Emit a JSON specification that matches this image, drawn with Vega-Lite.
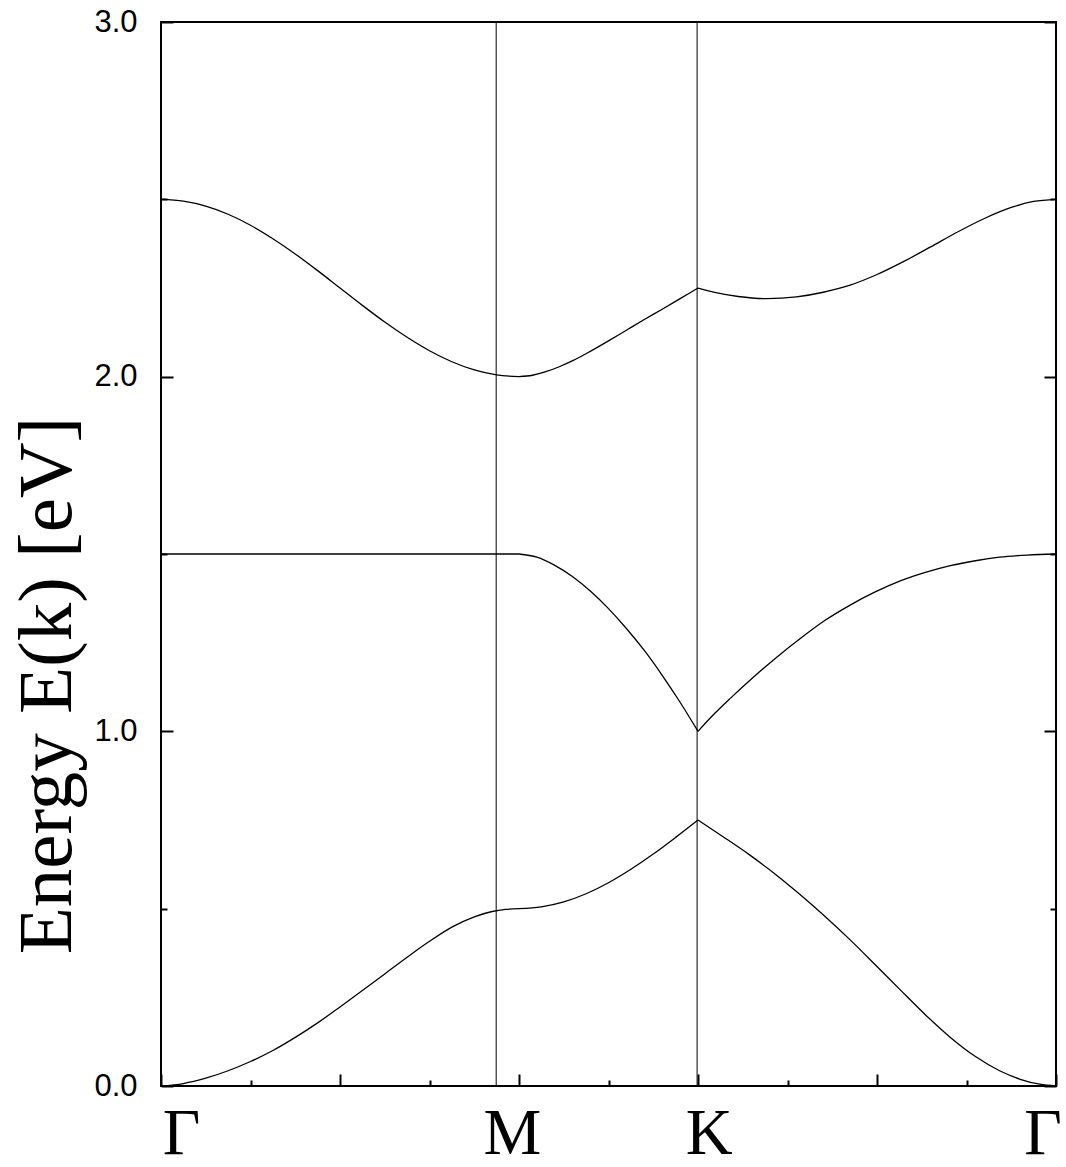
{
  "$schema": "https://vega.github.io/schema/vega-lite/v6.json",
  "width": 895,
  "height": 1064,
  "autosize": {"type": "none"},
  "padding": {"left": 161, "top": 22, "right": 10, "bottom": 81},
  "background": "white",
  "config": {
    "view": {"stroke": "black", "strokeWidth": 2},
    "axis": {"grid": false, "domain": false, "tickColor": "black", "tickWidth": 2, "labelColor": "black", "titleColor": "black"}
  },
  "datasets": {
    "bands": [
      {"seg": "1a", "k": 0, "E": 0},
      {"seg": "1a", "k": 0.025, "E": 0.007},
      {"seg": "1a", "k": 0.05, "E": 0.022},
      {"seg": "1a", "k": 0.075, "E": 0.043},
      {"seg": "1a", "k": 0.1, "E": 0.069},
      {"seg": "1a", "k": 0.125, "E": 0.1},
      {"seg": "1a", "k": 0.15, "E": 0.137},
      {"seg": "1a", "k": 0.175, "E": 0.178},
      {"seg": "1a", "k": 0.2, "E": 0.223},
      {"seg": "1a", "k": 0.225, "E": 0.269},
      {"seg": "1a", "k": 0.25, "E": 0.316},
      {"seg": "1a", "k": 0.275, "E": 0.363},
      {"seg": "1a", "k": 0.3, "E": 0.408},
      {"seg": "1a", "k": 0.325, "E": 0.448},
      {"seg": "1a", "k": 0.35, "E": 0.477},
      {"seg": "1a", "k": 0.37, "E": 0.492},
      {"seg": "1a", "k": 0.385, "E": 0.498},
      {"seg": "1a", "k": 0.4, "E": 0.5},
      {"seg": "1b", "k": 0.4, "E": 0.5},
      {"seg": "1b", "k": 0.425, "E": 0.505},
      {"seg": "1b", "k": 0.45, "E": 0.519},
      {"seg": "1b", "k": 0.475, "E": 0.542},
      {"seg": "1b", "k": 0.5, "E": 0.573},
      {"seg": "1b", "k": 0.525, "E": 0.611},
      {"seg": "1b", "k": 0.55, "E": 0.654},
      {"seg": "1b", "k": 0.575, "E": 0.701},
      {"seg": "1b", "k": 0.6, "E": 0.75},
      {"seg": "1c", "k": 0.6, "E": 0.75},
      {"seg": "1c", "k": 0.628, "E": 0.703},
      {"seg": "1c", "k": 0.658, "E": 0.651},
      {"seg": "1c", "k": 0.686, "E": 0.598},
      {"seg": "1c", "k": 0.714, "E": 0.54},
      {"seg": "1c", "k": 0.742, "E": 0.478},
      {"seg": "1c", "k": 0.77, "E": 0.412},
      {"seg": "1c", "k": 0.798, "E": 0.342},
      {"seg": "1c", "k": 0.826, "E": 0.271},
      {"seg": "1c", "k": 0.854, "E": 0.201},
      {"seg": "1c", "k": 0.882, "E": 0.137},
      {"seg": "1c", "k": 0.91, "E": 0.083},
      {"seg": "1c", "k": 0.937, "E": 0.043},
      {"seg": "1c", "k": 0.96, "E": 0.019},
      {"seg": "1c", "k": 0.982, "E": 0.005},
      {"seg": "1c", "k": 1.0, "E": 0},
      {"seg": "2a", "k": 0, "E": 1.5},
      {"seg": "2a", "k": 0.2, "E": 1.5},
      {"seg": "2a", "k": 0.4, "E": 1.5},
      {"seg": "2b", "k": 0.4, "E": 1.5},
      {"seg": "2b", "k": 0.42, "E": 1.491},
      {"seg": "2b", "k": 0.44, "E": 1.468},
      {"seg": "2b", "k": 0.46, "E": 1.436},
      {"seg": "2b", "k": 0.48, "E": 1.395},
      {"seg": "2b", "k": 0.5, "E": 1.346},
      {"seg": "2b", "k": 0.52, "E": 1.29},
      {"seg": "2b", "k": 0.54, "E": 1.228},
      {"seg": "2b", "k": 0.56, "E": 1.158},
      {"seg": "2b", "k": 0.58, "E": 1.082},
      {"seg": "2b", "k": 0.6, "E": 1.0},
      {"seg": "2c", "k": 0.6, "E": 1.0},
      {"seg": "2c", "k": 0.615, "E": 1.041},
      {"seg": "2c", "k": 0.637, "E": 1.095},
      {"seg": "2c", "k": 0.659, "E": 1.146},
      {"seg": "2c", "k": 0.687, "E": 1.207},
      {"seg": "2c", "k": 0.715, "E": 1.263},
      {"seg": "2c", "k": 0.742, "E": 1.313},
      {"seg": "2c", "k": 0.77, "E": 1.356},
      {"seg": "2c", "k": 0.798, "E": 1.393},
      {"seg": "2c", "k": 0.826, "E": 1.424},
      {"seg": "2c", "k": 0.854, "E": 1.448},
      {"seg": "2c", "k": 0.882, "E": 1.467},
      {"seg": "2c", "k": 0.91, "E": 1.481},
      {"seg": "2c", "k": 0.937, "E": 1.491},
      {"seg": "2c", "k": 0.968, "E": 1.497},
      {"seg": "2c", "k": 1.0, "E": 1.5},
      {"seg": "3a", "k": 0, "E": 2.5},
      {"seg": "3a", "k": 0.025, "E": 2.495},
      {"seg": "3a", "k": 0.05, "E": 2.481},
      {"seg": "3a", "k": 0.075, "E": 2.458},
      {"seg": "3a", "k": 0.1, "E": 2.427},
      {"seg": "3a", "k": 0.125, "E": 2.389},
      {"seg": "3a", "k": 0.15, "E": 2.346},
      {"seg": "3a", "k": 0.175, "E": 2.299},
      {"seg": "3a", "k": 0.2, "E": 2.25},
      {"seg": "3a", "k": 0.225, "E": 2.201},
      {"seg": "3a", "k": 0.25, "E": 2.154},
      {"seg": "3a", "k": 0.275, "E": 2.111},
      {"seg": "3a", "k": 0.3, "E": 2.073},
      {"seg": "3a", "k": 0.325, "E": 2.042},
      {"seg": "3a", "k": 0.35, "E": 2.019},
      {"seg": "3a", "k": 0.375, "E": 2.005},
      {"seg": "3a", "k": 0.4, "E": 2.0},
      {"seg": "3b", "k": 0.4, "E": 2.0},
      {"seg": "3b", "k": 0.415, "E": 2.004},
      {"seg": "3b", "k": 0.43, "E": 2.014},
      {"seg": "3b", "k": 0.445, "E": 2.028},
      {"seg": "3b", "k": 0.46, "E": 2.045},
      {"seg": "3b", "k": 0.48, "E": 2.072},
      {"seg": "3b", "k": 0.5, "E": 2.101},
      {"seg": "3b", "k": 0.52, "E": 2.131},
      {"seg": "3b", "k": 0.54, "E": 2.161},
      {"seg": "3b", "k": 0.56, "E": 2.19},
      {"seg": "3b", "k": 0.58, "E": 2.22},
      {"seg": "3b", "k": 0.6, "E": 2.25},
      {"seg": "3c", "k": 0.6, "E": 2.25},
      {"seg": "3c", "k": 0.62, "E": 2.237},
      {"seg": "3c", "k": 0.645, "E": 2.226},
      {"seg": "3c", "k": 0.677, "E": 2.22},
      {"seg": "3c", "k": 0.71, "E": 2.225},
      {"seg": "3c", "k": 0.74, "E": 2.238},
      {"seg": "3c", "k": 0.77, "E": 2.258},
      {"seg": "3c", "k": 0.8, "E": 2.288},
      {"seg": "3c", "k": 0.83, "E": 2.325},
      {"seg": "3c", "k": 0.86, "E": 2.366},
      {"seg": "3c", "k": 0.89, "E": 2.408},
      {"seg": "3c", "k": 0.92, "E": 2.446},
      {"seg": "3c", "k": 0.95, "E": 2.477},
      {"seg": "3c", "k": 0.975, "E": 2.494},
      {"seg": "3c", "k": 1.0, "E": 2.5}
    ],
    "sym": [
      {"name": "M", "k": 0.3745},
      {"name": "K", "k": 0.599}
    ]
  },
  "resolve": {"axis": {"x": "independent", "y": "independent"}},
  "layer": [
    {
      "data": {"name": "bands"},
      "mark": {"type": "line", "interpolate": "monotone", "color": "black", "strokeWidth": 1.3},
      "encoding": {
        "x": {"field": "k", "type": "quantitative", "scale": {"domain": [0, 1], "nice": false, "zero": false},
              "axis": {"orient": "bottom", "values": [0, 0.2, 0.4, 0.6, 0.8, 1], "tickSize": -12, "labels": false, "title": null}},
        "y": {"field": "E", "type": "quantitative", "scale": {"domain": [0, 3], "nice": false},
              "axis": {"orient": "left", "values": [0, 1, 2, 3], "tickSize": -12, "labels": false, "title": null}},
        "detail": {"field": "seg"}
      }
    },
    {
      "data": {"name": "sym"},
      "mark": {"type": "rule", "color": "black", "strokeWidth": 1},
      "encoding": {
        "x": {"field": "k", "type": "quantitative", "scale": {"domain": [0, 1], "nice": false, "zero": false}, "axis": null}
      }
    },
    {
      "data": {"name": "bands"},
      "mark": {"type": "point", "opacity": 0},
      "encoding": {
        "x": {"field": "k", "type": "quantitative", "scale": {"domain": [0, 1], "nice": false, "zero": false},
              "axis": {"orient": "bottom", "values": [0.1, 0.3, 0.5, 0.7, 0.9], "tickSize": -6, "labels": false, "title": null}},
        "y": {"field": "E", "type": "quantitative", "scale": {"domain": [0, 3], "nice": false},
              "axis": {"orient": "left", "values": [0.5, 1.5, 2.5], "tickSize": -6, "labels": false, "title": null}}
      }
    },
    {
      "data": {"name": "bands"},
      "mark": {"type": "point", "opacity": 0},
      "encoding": {
        "x": {"field": "k", "type": "quantitative", "scale": {"domain": [0, 1], "nice": false, "zero": false},
              "axis": {"orient": "bottom", "values": [0.0223, 0.392, 0.612, 0.985], "ticks": false, "title": null,
                       "labelExpr": "datum.value < 0.1 ? 'Γ' : datum.value < 0.5 ? 'M' : datum.value < 0.8 ? 'K' : 'Γ'",
                       "labelFont": "Liberation Serif", "labelFontSize": 65, "labelBaseline": "alphabetic", "labelPadding": 67,
                       "labelAlign": "center", "labelOverlap": false, "labelFlush": false, "labelBound": false}},
        "y": {"field": "E", "type": "quantitative", "scale": {"domain": [0, 3], "nice": false},
              "axis": {"orient": "left", "values": [0, 1, 2, 3], "ticks": false, "format": ".1f",
                       "labelFont": "Liberation Sans", "labelFontSize": 31, "labelPadding": 24, "labelBaseline": "middle",
                       "labelOverlap": false, "labelFlush": false,
                       "title": "Energy E(k) [eV]", "titleFont": "Liberation Serif", "titleFontSize": 77, "titleFontWeight": "normal",
                       "titleAngle": -90, "titleX": -114, "titleY": 663, "titleAlign": "center", "titleBaseline": "middle"}}
      }
    },
    {
      "data": {"name": "bands"},
      "mark": {"type": "point", "opacity": 0},
      "encoding": {
        "x": {"field": "k", "type": "quantitative", "scale": {"domain": [0, 1], "nice": false, "zero": false}, "axis": null},
        "y": {"field": "E", "type": "quantitative", "scale": {"domain": [0, 3], "nice": false},
              "axis": {"orient": "right", "values": [0, 1, 2, 3], "tickSize": -12, "labels": false, "title": null}}
      }
    },
    {
      "data": {"name": "bands"},
      "mark": {"type": "point", "opacity": 0},
      "encoding": {
        "x": {"field": "k", "type": "quantitative", "scale": {"domain": [0, 1], "nice": false, "zero": false}, "axis": null},
        "y": {"field": "E", "type": "quantitative", "scale": {"domain": [0, 3], "nice": false},
              "axis": {"orient": "right", "values": [0.5, 1.5, 2.5], "tickSize": -6, "labels": false, "title": null}}
      }
    }
  ]
}
